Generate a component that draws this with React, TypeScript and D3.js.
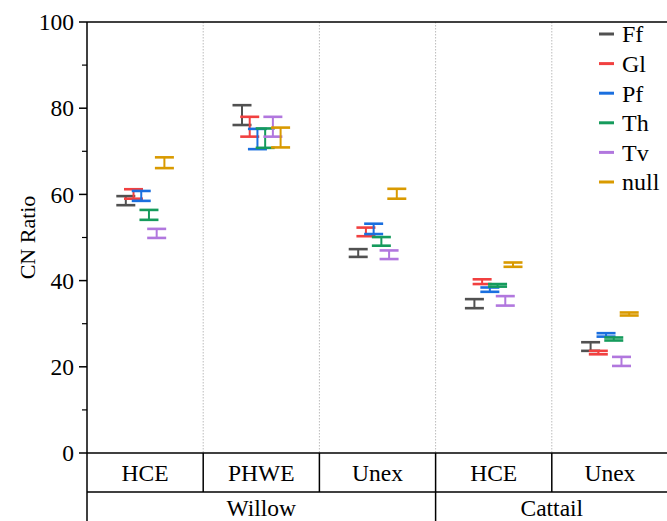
import React from "react";
import * as d3 from "d3";

const width = 667;
const height = 521;
const margin = { top: 22, left: 87, bottom: 453, right: 668 };

const groups = ["HCE", "PHWE", "Unex", "HCE", "Unex"];
const plants = [
  { name: "Willow", from: 0, to: 3 },
  { name: "Cattail", from: 3, to: 5 }
];
const seriesNames = ["Ff", "Gl", "Pf", "Th", "Tv", "null"];
const colors = ["#515151", "#F14040", "#1A6FDF", "#159B5C", "#B177DE", "#D99A00"];

const ffHigh = [59.6, 80.7, 47.3, 35.7, 25.7];
const ffLow = [57.5, 76.1, 45.5, 33.6, 23.7];
const glHigh = [61.2, 78.0, 52.3, 40.3, 23.7];
const glLow = [59.0, 73.4, 50.3, 39.2, 22.9];
const pfHigh = [60.8, 75.2, 53.2, 38.4, 27.8];
const pfLow = [58.5, 70.5, 50.8, 37.4, 27.0];
const thHigh = [56.4, 75.3, 50.1, 39.2, 26.8];
const thLow = [54.1, 70.8, 48.1, 38.6, 26.1];
const tvHigh = [52.0, 78.0, 47.0, 36.4, 22.3];
const tvLow = [49.9, 73.4, 45.0, 34.2, 20.2];
const nullHigh = [68.6, 75.5, 61.3, 44.2, 32.6];
const nullLow = [66.1, 70.9, 59.0, 43.2, 31.9];

const highs = [ffHigh, glHigh, pfHigh, thHigh, tvHigh, nullHigh];
const lows = [ffLow, glLow, pfLow, thLow, tvLow, nullLow];

const yTicks = [0, 20, 40, 60, 80, 100];
const yMinor = [10, 30, 50, 70, 90];

const txt = { fontFamily: "Liberation Serif, DejaVu Serif, serif" };

export default function App() {
  const idx = groups.map((_, i) => i);
  const x = d3.scaleBand<number>().domain(idx).range([margin.left, margin.right]);
  const y = d3.scaleLinear().domain([0, 100]).range([margin.bottom, margin.top]);
  const off = d3
    .scalePoint<string>()
    .domain(seriesNames)
    .range([-19.3, 19.3]);
  const capW = 19;
  const row1 = 492;

  return (
    <svg
      width={width}
      height={height}
      style={{ position: "absolute", left: 0, top: 0, background: "#fff" }}
    >
      {/* dotted group separators */}
      {idx.slice(1).map((i) => (
        <line
          key={"sep" + i}
          x1={x(i)}
          x2={x(i)}
          y1={margin.top}
          y2={margin.bottom}
          stroke="#bbb"
          strokeWidth={1}
          strokeDasharray="1.5,1.5"
        />
      ))}

      {/* error bars */}
      {seriesNames.map((s, si) => (
        <g key={s} stroke={colors[si]} strokeWidth={2.6} fill="none">
          {idx.map((i) => {
            const cx = (x(i) as number) + x.bandwidth() / 2 + (off(s) as number);
            const yh = y(highs[si][i]);
            const yl = y(lows[si][i]);
            return (
              <g key={i}>
                <line x1={cx} x2={cx} y1={yh} y2={yl} strokeWidth={2} />
                <line x1={cx - capW / 2} x2={cx + capW / 2} y1={yh} y2={yh} />
                <line x1={cx - capW / 2} x2={cx + capW / 2} y1={yl} y2={yl} />
              </g>
            );
          })}
        </g>
      ))}

      {/* axes frame */}
      <line x1={margin.left} x2={width} y1={margin.top} y2={margin.top} stroke="#000" strokeWidth={1.5} />
      <line x1={margin.left} x2={margin.left} y1={margin.top} y2={height} stroke="#000" strokeWidth={1.5} />
      <line x1={margin.left} x2={width} y1={margin.bottom} y2={margin.bottom} stroke="#000" strokeWidth={1.5} />
      <line x1={margin.left} x2={width} y1={row1} y2={row1} stroke="#000" strokeWidth={1.5} />

      {/* y ticks */}
      {yTicks.map((t) => (
        <g key={"t" + t}>
          <line x1={margin.left - 8} x2={margin.left} y1={y(t)} y2={y(t)} stroke="#000" strokeWidth={1.5} />
          <text x={margin.left - 13} y={y(t)} dy="0.35em" textAnchor="end" fontSize={23.5} fill="#000" style={txt}>
            {t}
          </text>
        </g>
      ))}
      {yMinor.map((t) => (
        <line key={"m" + t} x1={margin.left - 5} x2={margin.left} y1={y(t)} y2={y(t)} stroke="#000" strokeWidth={1.2} />
      ))}
      <text
        transform={`translate(27, ${y(50)}) rotate(-90)`}
        textAnchor="middle"
        dy="0.35em"
        fontSize={22}
        fill="#000"
        style={txt}
      >
        CN Ratio
      </text>

      {/* category table */}
      {idx.slice(1).map((i) => (
        <line key={"cd" + i} x1={x(i)} x2={x(i)} y1={margin.bottom} y2={row1} stroke="#000" strokeWidth={1.5} />
      ))}
      {groups.map((g, i) => (
        <text
          key={"g" + i}
          x={(x(i) as number) + x.bandwidth() / 2}
          y={(margin.bottom + row1) / 2}
          dy="0.35em"
          textAnchor="middle"
          fontSize={23.5}
          fill="#000"
          style={txt}
        >
          {g}
        </text>
      ))}
      {plants.map((p) => {
        const x0 = x(p.from) as number;
        const x1 = p.to < groups.length ? (x(p.to) as number) : margin.right;
        return (
          <g key={p.name}>
            {p.from > 0 && <line x1={x0} x2={x0} y1={row1} y2={height} stroke="#000" strokeWidth={1.5} />}
            <text x={(x0 + x1) / 2} y={508} dy="0.35em" textAnchor="middle" fontSize={23.5} fill="#000" style={txt}>
              {p.name}
            </text>
          </g>
        );
      })}

      {/* legend */}
      {seriesNames.map((s, si) => {
        const ly = 34 + si * 29.6;
        return (
          <g key={"l" + s}>
            <line x1={599} x2={614} y1={ly} y2={ly} stroke={colors[si]} strokeWidth={3} />
            <text x={622} y={ly} dy="0.35em" fontSize={24} fill="#000" style={txt}>
              {s}
            </text>
          </g>
        );
      })}
    </svg>
  );
}
